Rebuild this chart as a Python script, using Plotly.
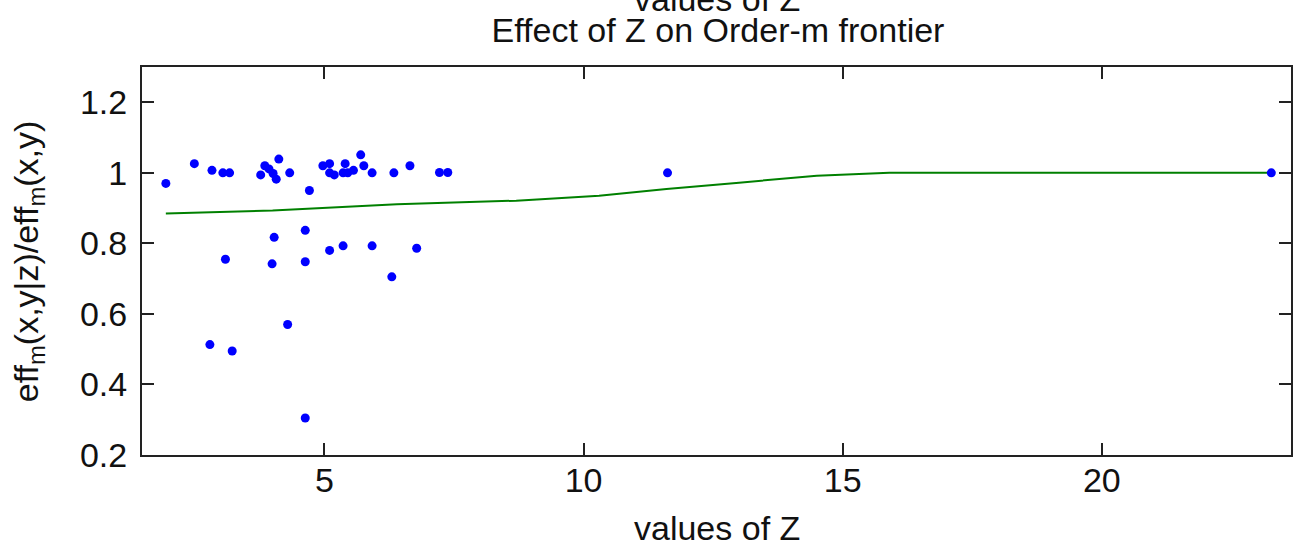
import plotly.graph_objects as go

# Scatter data: values of Z and efficiency ratios
z_vals = [1.94, 2.49, 2.83, 3.04, 3.17, 3.77, 3.85, 3.93, 4.01, 4.07, 4.12, 4.33,
          4.71, 4.97, 5.10, 5.10, 5.19, 5.40, 5.36, 5.45, 5.56, 5.70, 5.76, 5.92,
          6.34, 6.65, 7.22, 7.38, 11.62, 23.27,
          3.09, 4.03, 3.99, 4.63, 4.63, 5.10, 5.36, 5.92, 6.30, 6.78,
          2.79, 3.22, 4.29, 4.63]
ratio_vals = [0.970, 1.026, 1.007, 1.000, 1.000, 0.994, 1.020, 1.011, 0.998, 0.982, 1.039, 1.000,
              0.950, 1.020, 1.026, 1.000, 0.994, 1.026, 1.000, 1.000, 1.007, 1.051, 1.020, 1.000,
              1.000, 1.020, 1.001, 1.001, 1.000, 1.000,
              0.755, 0.817, 0.742, 0.837, 0.748, 0.780, 0.793, 0.793, 0.705, 0.786,
              0.513, 0.495, 0.570, 0.305]

# Smoothed effect curve
curve_z = [1.94, 4.0, 6.4, 8.7, 10.3, 11.6, 13.0, 14.5, 15.9, 23.27]
curve_r = [0.885, 0.893, 0.911, 0.921, 0.935, 0.954, 0.972, 0.992, 1.000, 1.000]

x_ticks = [5, 10, 15, 20]
y_ticks = [0.2, 0.4, 0.6, 0.8, 1.0, 1.2]
y_tick_text = ["0.2", "0.4", "0.6", "0.8", "1", "1.2"]

FONT = "Liberation Sans, Arial, sans-serif"
FS = 34
W, H = 1293, 548
L, R, T, B = 142, 0, 67, 93
plot_h = H - T - B

fig = go.Figure()
fig.add_trace(go.Scatter(x=curve_z, y=curve_r, mode="lines",
                         line=dict(color="rgb(0,128,0)", width=2), showlegend=False))
fig.add_trace(go.Scatter(x=z_vals, y=ratio_vals, mode="markers",
                         marker=dict(color="rgb(0,0,255)", size=9), showlegend=False))

axis_common = dict(showgrid=False, zeroline=False, showline=True, linecolor="#222",
                   linewidth=2, mirror="ticks", ticks="inside", ticklen=12,
                   tickwidth=2, tickcolor="#222",
                   tickfont=dict(family=FONT, size=FS, color="#111"))

fig.update_layout(
    width=W, height=H,
    margin=dict(l=L, r=R, t=T, b=B),
    paper_bgcolor="white", plot_bgcolor="white",
    title=dict(text="Effect of Z on Order-m frontier", x=718 / W, xref="container",
               xanchor="center", y=(H - 30) / H, yanchor="middle",
               font=dict(family=FONT, size=FS, color="#111")),
    xaxis=dict(range=[1.48, 23.65], tickvals=x_ticks, ticklabelstandoff=-6, **axis_common),
    yaxis=dict(range=[0.2, 1.3], tickvals=y_ticks, ticktext=y_tick_text,
               ticklabelstandoff=6, **axis_common),
    annotations=[
        dict(text="values of Z", xref="paper", yref="paper", x=0.5,
             y=(455 - 528) / plot_h, yanchor="middle", xanchor="center",
             showarrow=False, font=dict(family=FONT, size=FS, color="#111")),
        dict(text="values of Z", xref="paper", yref="paper", x=0.5,
             y=1 + (T + 1) / plot_h, yanchor="middle", xanchor="center",
             showarrow=False, font=dict(family=FONT, size=FS, color="#111")),
        dict(text="eff<sub>m</sub>(x,y|z)/eff<sub>m</sub>(x,y)", xref="paper", yref="paper",
             x=(28 - L) / (W - L - R), y=0.5, xanchor="center", yanchor="middle",
             textangle=-90, showarrow=False,
             font=dict(family=FONT, size=FS, color="#111")),
    ],
)

fig.write_html("out.html")
